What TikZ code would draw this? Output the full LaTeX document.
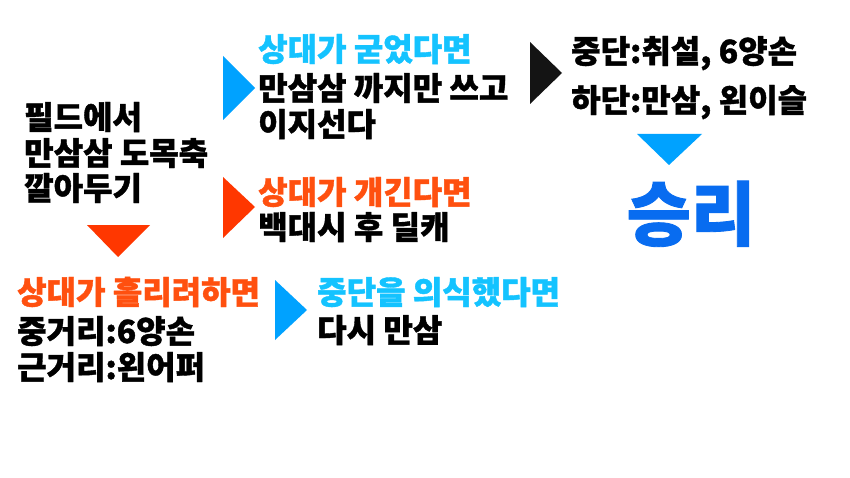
\documentclass[tikz,border=0pt]{standalone}
\usepackage{fontspec}
\setmainfont{Noto Sans CJK KR}[BoldFeatures={FakeBold=1.2}]
\definecolor{skytext}{RGB}{20,195,255}
\definecolor{skytri}{RGB}{0,162,255}
\definecolor{redtri}{RGB}{255,55,0}
\definecolor{redtext}{RGB}{255,80,15}
\definecolor{wintext}{RGB}{8,108,240}
\definecolor{darktri}{RGB}{20,20,20}
\begin{document}
\begin{tikzpicture}[x=1pt,y=-1pt,every node/.style={anchor=base west,inner sep=0pt,font=\bfseries\fontsize{32}{36}\selectfont}]
\useasboundingbox[fill=white] (0,0) rectangle (850,478);
\node (field1) at (24,129) {필드에서};
\node (field2) at (24,165) {만삼삼 도목축};
\node (field3) at (24,200) {깔아두기};
\fill[redtri] (87,225)--(150,225)--(118,257)--cycle;
\fill[skytri] (223,56)--(255,88)--(223,120)--cycle;
\node[skytext] (hard1) at (258,61) {상대가 굳었다면};
\node (hard2) at (258,100) {만삼삼 까지만 쓰고};
\node (hard3) at (258,136) {이지선다};
\fill[redtri] (223,177)--(255,207)--(223,238)--cycle;
\node[redtext] (push1) at (258,204) {상대가 개긴다면};
\node (push2) at (258,239) {백대시 후 딜캐};
\node[redtext] (wait1) at (17,304) {상대가 흘리려하면};
\node (wait2) at (17,343) {중거리:6양손};
\node (wait3) at (17,379) {근거리:왼어퍼};
\fill[skytri] (275,280)--(307,310)--(275,340)--cycle;
\node[skytext] (mid1) at (317,304) {중단을 의식했다면};
\node (mid2) at (317,342) {다시 만삼};
\fill[darktri] (530,42)--(562,73)--(530,104)--cycle;
\node (mix1) at (571,63) {중단:취설, 6양손};
\node (mix2) at (571,112) {하단:만삼, 왼이슬};
\fill[skytri] (637,134)--(702,134)--(669,165)--cycle;
\node[wintext,anchor=base,font=\bfseries\fontsize{70}{74}\selectfont] (win) at (691,240) {승리};
\end{tikzpicture}
\end{document}
